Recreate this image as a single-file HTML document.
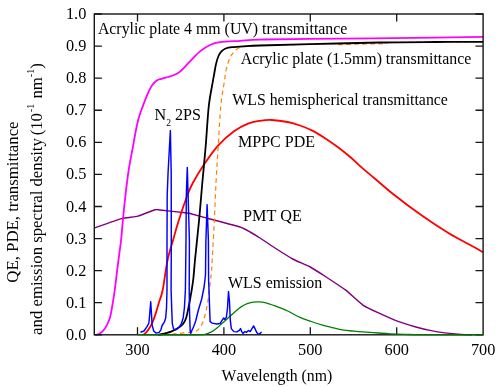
<!DOCTYPE html>
<html><head><meta charset="utf-8"><title>chart</title>
<style>html,body{margin:0;padding:0;background:#fff;}body{width:498px;height:387px;overflow:hidden;position:relative;font-family:"Liberation Serif",serif;}</style></head>
<body>
<svg width="498" height="387" viewBox="0 0 498 387" style="display:block;position:absolute;left:0;top:0;will-change:transform;font-kerning:none" font-family="Liberation Serif, serif" fill="#000">
<rect width="498" height="387" fill="#fff"/>
<path d="M94.50,227.90 C96.76,227.12 117.98,219.58 121.60,218.60 C125.22,217.62 135.12,216.83 137.90,216.10 C140.68,215.37 153.16,210.31 155.00,209.80 C156.84,209.29 157.50,209.75 160.00,210.00 C162.50,210.25 182.50,212.51 185.00,212.80 C187.50,213.09 187.92,212.98 190.00,213.50 C192.08,214.02 205.83,217.88 210.00,219.00 C214.17,220.12 236.67,225.92 240.00,227.00 C243.33,228.08 248.33,231.08 250.00,232.00 C251.67,232.92 257.92,236.67 260.00,238.00 C262.08,239.33 272.27,246.25 275.00,248.00 C277.73,249.75 289.76,257.42 292.70,259.00 C295.64,260.58 307.57,265.54 310.30,267.00 C313.03,268.46 322.47,274.59 325.40,276.50 C328.32,278.41 342.27,287.52 345.40,289.90 C348.52,292.28 360.18,303.20 362.90,305.10 C365.62,307.00 375.07,311.34 378.00,312.70 C380.93,314.06 394.92,320.23 398.00,321.40 C401.08,322.57 412.33,325.95 415.00,326.70 C417.67,327.45 427.50,329.88 430.00,330.40 C432.50,330.92 442.42,332.57 445.00,332.90 C447.58,333.23 458.75,334.24 461.00,334.40 C463.25,334.56 471.08,334.77 472.00,334.80" fill="none" stroke="#800080" stroke-width="1.45" stroke-linejoin="round"/>
<path d="M96.30,334.80 C96.75,334.67 98.02,334.52 99.00,334.00 C99.98,333.48 101.02,332.93 102.20,331.70 C103.38,330.47 104.80,328.97 106.10,326.60 C107.40,324.23 108.93,321.17 110.00,317.50 C111.07,313.83 111.68,309.35 112.50,304.60 C113.32,299.85 114.08,295.03 114.90,289.00 C115.72,282.97 116.65,274.42 117.40,268.40 C118.15,262.38 118.78,257.63 119.40,252.90 C120.02,248.17 120.45,246.15 121.10,240.00 C121.75,233.85 122.55,223.67 123.30,216.00 C124.05,208.33 124.65,202.00 125.60,194.00 C126.55,186.00 127.78,175.83 129.00,168.00 C130.22,160.17 131.85,152.75 132.90,147.00 C133.95,141.25 134.48,137.75 135.30,133.50 C136.12,129.25 137.02,124.75 137.80,121.50 C138.58,118.25 139.27,116.28 140.00,114.00 C140.73,111.72 141.03,110.92 142.20,107.80 C143.37,104.68 145.40,98.98 147.00,95.30 C148.60,91.62 150.18,88.15 151.80,85.70 C153.42,83.25 155.08,81.75 156.70,80.60 C158.32,79.45 159.63,79.40 161.50,78.80 C163.37,78.20 165.82,77.63 167.90,77.00 C169.98,76.37 171.98,75.90 174.00,75.00 C176.02,74.10 177.33,73.87 180.00,71.60 C182.67,69.33 186.67,64.77 190.00,61.40 C193.33,58.03 196.67,54.13 200.00,51.40 C203.33,48.67 206.67,46.53 210.00,45.00 C213.33,43.47 215.00,42.90 220.00,42.20 C225.00,41.50 233.33,41.23 240.00,40.80 C246.67,40.37 248.33,39.92 260.00,39.60 C271.67,39.28 280.83,39.22 310.00,38.90 C339.17,38.58 406.15,38.03 435.00,37.70 C463.85,37.37 475.08,37.03 483.10,36.90" fill="none" stroke="#ff00ff" stroke-width="1.8" stroke-linejoin="round"/>
<path d="M143.30,334.80 C143.75,334.43 145.17,333.43 146.00,332.60 C146.83,331.77 147.32,331.28 148.30,329.80 C149.28,328.32 150.70,326.32 151.90,323.70 C153.10,321.08 154.30,317.72 155.50,314.10 C156.70,310.48 157.90,306.02 159.10,302.00 C160.30,297.98 161.28,297.00 162.70,290.00 C164.12,283.00 165.82,268.50 167.60,260.00 C169.38,251.50 171.47,245.83 173.40,239.00 C175.33,232.17 176.85,226.33 179.20,219.00 C181.55,211.67 185.23,201.00 187.50,195.00 C189.77,189.00 190.05,188.07 192.80,183.00 C195.55,177.93 199.80,170.83 204.00,164.60 C208.20,158.37 213.00,151.17 218.00,145.60 C223.00,140.03 229.00,134.87 234.00,131.20 C239.00,127.53 243.67,125.33 248.00,123.60 C252.33,121.87 256.10,121.40 260.00,120.80 C263.90,120.20 266.78,119.80 271.40,120.00 C276.02,120.20 282.93,121.08 287.70,122.00 C292.47,122.92 295.82,124.02 300.00,125.50 C304.18,126.98 308.57,128.73 312.80,130.90 C317.03,133.07 321.20,135.77 325.40,138.50 C329.60,141.23 333.82,144.17 338.00,147.30 C342.18,150.43 346.33,153.75 350.50,157.30 C354.67,160.85 358.92,165.03 363.00,168.60 C367.08,172.17 370.00,174.47 375.00,178.70 C380.00,182.93 384.95,187.68 393.00,194.00 C401.05,200.32 414.07,210.10 423.30,216.60 C432.53,223.10 440.03,227.97 448.40,233.00 C456.77,238.03 467.72,243.58 473.50,246.80 C479.28,250.02 481.50,251.38 483.10,252.30" fill="none" stroke="#ff0000" stroke-width="1.8"/>
<path d="M172.00,334.30 C173.33,334.12 177.33,333.48 180.00,333.20 C182.67,332.92 185.33,332.93 188.00,332.60 C190.67,332.27 193.83,332.30 196.00,331.20 C198.17,330.10 199.58,328.37 201.00,326.00 C202.42,323.63 203.40,320.83 204.50,317.00 C205.60,313.17 206.67,308.60 207.60,303.00 C208.53,297.40 209.47,288.57 210.10,283.40 C210.73,278.23 211.05,275.90 211.40,272.00 C211.75,268.10 211.73,268.17 212.20,260.00 C212.67,251.83 213.57,235.83 214.20,223.00 C214.83,210.17 215.33,195.83 216.00,183.00 C216.67,170.17 217.40,158.83 218.20,146.00 C219.00,133.17 219.87,116.13 220.80,106.00 C221.73,95.87 222.88,91.33 223.80,85.20 C224.72,79.07 225.22,73.88 226.30,69.20 C227.38,64.52 228.77,60.25 230.30,57.10 C231.83,53.95 233.97,51.88 235.50,50.30 C237.03,48.72 238.08,48.27 239.50,47.60 C240.92,46.93 240.58,46.65 244.00,46.30 C247.42,45.95 249.00,45.85 260.00,45.50 C271.00,45.15 297.83,44.50 310.00,44.20 C322.17,43.90 328.50,43.63 333.00,43.70 C337.50,43.77 332.50,44.53 337.00,44.60 C341.50,44.67 352.00,44.27 360.00,44.10 C368.00,43.93 380.17,43.85 385.00,43.60 C389.83,43.35 380.67,42.87 389.00,42.60 C397.33,42.33 419.32,42.12 435.00,42.00 C450.68,41.88 475.08,41.92 483.10,41.90" fill="none" stroke="#ff8000" stroke-width="1.2" stroke-dasharray="4.5,3.5"/>
<path d="M158.00,334.70 C158.78,334.58 161.37,334.25 162.70,334.00 C164.03,333.75 164.60,333.60 166.00,333.20 C167.40,332.80 169.23,332.37 171.10,331.60 C172.97,330.83 175.25,329.82 177.20,328.60 C179.15,327.38 181.30,326.12 182.80,324.30 C184.30,322.48 185.23,320.58 186.20,317.70 C187.17,314.82 187.75,311.22 188.60,307.00 C189.45,302.78 190.52,297.07 191.30,292.40 C192.08,287.73 192.68,284.40 193.30,279.00 C193.92,273.60 194.08,269.33 195.00,260.00 C195.92,250.67 197.87,232.50 198.80,223.00 C199.73,213.50 200.02,209.67 200.60,203.00 C201.18,196.33 201.45,192.50 202.30,183.00 C203.15,173.50 204.62,158.83 205.70,146.00 C206.78,133.17 207.60,116.80 208.80,106.00 C210.00,95.20 212.03,86.37 212.90,81.20 C213.77,76.03 213.48,77.85 214.00,75.00 C214.52,72.15 215.25,67.27 216.00,64.10 C216.75,60.93 217.55,58.15 218.50,56.00 C219.45,53.85 220.50,52.45 221.70,51.20 C222.90,49.95 223.97,49.17 225.70,48.50 C227.43,47.83 229.05,47.57 232.10,47.20 C235.15,46.83 239.35,46.58 244.00,46.30 C248.65,46.02 249.00,45.85 260.00,45.50 C271.00,45.15 290.00,44.70 310.00,44.20 C330.00,43.70 359.17,42.87 380.00,42.50 C400.83,42.13 417.82,42.10 435.00,42.00 C452.18,41.90 475.08,41.92 483.10,41.90" fill="none" stroke="#000" stroke-width="1.8"/>
<rect x="94.3" y="14.0" width="388.8" height="320.8" fill="none" stroke="#161616" stroke-width="1.4"/>
<path d="M137.50,334.8 v-7.6 M137.50,14.0 v7.6 M223.90,334.8 v-7.6 M223.90,14.0 v7.6 M310.30,334.8 v-7.6 M310.30,14.0 v7.6 M396.70,334.8 v-7.6 M396.70,14.0 v7.6 M94.3,334.80 h7.6 M483.1,334.80 h-7.6 M94.3,302.72 h7.6 M483.1,302.72 h-7.6 M94.3,270.64 h7.6 M483.1,270.64 h-7.6 M94.3,238.56 h7.6 M483.1,238.56 h-7.6 M94.3,206.48 h7.6 M483.1,206.48 h-7.6 M94.3,174.40 h7.6 M483.1,174.40 h-7.6 M94.3,142.32 h7.6 M483.1,142.32 h-7.6 M94.3,110.24 h7.6 M483.1,110.24 h-7.6 M94.3,78.16 h7.6 M483.1,78.16 h-7.6 M94.3,46.08 h7.6 M483.1,46.08 h-7.6 M94.3,14.00 h7.6 M483.1,14.00 h-7.6" stroke="#161616" stroke-width="1.3" fill="none"/>
<path d="M137.70,334.80 C147.42,334.80 184.78,334.88 196.00,334.80 C207.22,334.72 202.50,334.73 205.00,334.30 C207.50,333.87 209.00,333.25 211.00,332.20 C213.00,331.15 214.98,329.62 217.00,328.00 C219.02,326.38 221.08,324.32 223.10,322.50 C225.12,320.68 227.10,318.90 229.10,317.10 C231.10,315.30 233.10,313.40 235.10,311.70 C237.10,310.00 239.08,308.25 241.10,306.90 C243.12,305.55 245.18,304.38 247.20,303.60 C249.22,302.82 251.40,302.48 253.20,302.20 C255.00,301.92 256.03,301.83 258.00,301.90 C259.97,301.97 262.17,301.93 265.00,302.60 C267.83,303.27 271.22,304.50 275.00,305.90 C278.78,307.30 283.53,309.08 287.70,311.00 C291.87,312.92 296.08,315.65 300.00,317.40 C303.92,319.15 307.45,320.20 311.20,321.50 C314.95,322.80 319.20,324.23 322.50,325.20 C325.80,326.17 327.75,326.53 331.00,327.30 C334.25,328.07 338.17,329.15 342.00,329.80 C345.83,330.45 350.00,330.80 354.00,331.20 C358.00,331.60 362.00,331.90 366.00,332.20 C370.00,332.50 374.00,332.73 378.00,333.00 C382.00,333.27 385.50,333.57 390.00,333.80 C394.50,334.03 399.17,334.23 405.00,334.40 C410.83,334.57 411.98,334.73 425.00,334.80 C438.02,334.87 473.42,334.80 483.10,334.80" fill="none" stroke="#008000" stroke-width="1.3"/>
<path d="M140.40,332.20 L144.00,331.00 L147.00,326.70 L148.90,323.00 L149.70,314.10 L150.70,301.80 L151.50,314.10 L152.10,324.90 L153.70,331.00 L156.10,333.10 L159.10,332.40 L160.90,329.80 L162.10,325.50 L164.50,321.90 L165.70,317.70 L166.50,308.10 L167.00,290.00 L167.00,241.00 L167.20,195.00 L168.10,172.00 L170.35,130.60 L171.20,172.00 L171.30,241.00 L171.10,290.00 L171.70,308.00 L172.30,323.70 L173.60,329.20 L176.00,329.80 L179.00,327.30 L181.40,323.70 L183.20,317.70 L184.40,308.00 L185.40,290.00 L186.00,241.00 L186.30,195.00 L187.30,167.50 L188.10,195.00 L189.40,241.00 L189.20,290.00 L189.60,314.00 L190.20,331.00 L190.70,333.40 L191.60,331.00 L193.50,327.00 L195.70,321.00 L198.10,311.00 L201.70,299.00 L204.10,287.00 L205.50,275.00 L205.90,241.00 L207.10,204.60 L208.40,241.00 L208.60,280.00 L209.00,290.00 L209.60,308.00 L210.10,321.60 L212.20,323.10 L217.00,324.00 L220.10,323.50 L221.90,320.70 L223.70,318.00 L224.90,319.50 L226.40,317.10 L227.50,308.10 L228.50,291.60 L229.50,302.00 L230.30,320.10 L231.30,328.60 L233.90,331.60 L236.90,331.90 L239.30,330.40 L240.50,328.60 L241.70,331.60 L243.00,333.40 L244.80,331.60 L246.60,332.20 L248.40,330.40 L250.20,331.60 L252.00,328.60 L253.60,325.90 L255.00,328.60 L256.60,332.20 L257.80,333.60 L259.20,334.00 L260.40,333.20 L261.60,332.00" fill="none" stroke="#0000ff" stroke-width="1.45" stroke-linejoin="round"/>
<text x="137.5" y="355.0" font-size="16.3" text-anchor="middle" >300</text>
<text x="223.9" y="355.0" font-size="16.3" text-anchor="middle" >400</text>
<text x="310.3" y="355.0" font-size="16.3" text-anchor="middle" >500</text>
<text x="396.7" y="355.0" font-size="16.3" text-anchor="middle" >600</text>
<text x="483.1" y="355.0" font-size="16.3" text-anchor="middle" >700</text>
<text x="86.3" y="339.8" font-size="16.3" text-anchor="end" >0.0</text>
<text x="86.3" y="307.7" font-size="16.3" text-anchor="end" >0.1</text>
<text x="86.3" y="275.6" font-size="16.3" text-anchor="end" >0.2</text>
<text x="86.3" y="243.6" font-size="16.3" text-anchor="end" >0.3</text>
<text x="86.3" y="211.5" font-size="16.3" text-anchor="end" >0.4</text>
<text x="86.3" y="179.4" font-size="16.3" text-anchor="end" >0.5</text>
<text x="86.3" y="147.3" font-size="16.3" text-anchor="end" >0.6</text>
<text x="86.3" y="115.2" font-size="16.3" text-anchor="end" >0.7</text>
<text x="86.3" y="83.2" font-size="16.3" text-anchor="end" >0.8</text>
<text x="86.3" y="51.1" font-size="16.3" text-anchor="end" >0.9</text>
<text x="86.3" y="19.0" font-size="16.3" text-anchor="end" >1.0</text>
<text x="97.9" y="34.2" font-size="15.85" text-anchor="start" >Acrylic plate 4 mm (UV) transmittance</text>
<text x="240.7" y="63.9" font-size="15.85" text-anchor="start" >Acrylic plate (1.5mm) transmittance</text>
<text x="232.3" y="104.9" font-size="15.85" text-anchor="start" >WLS hemispherical transmittance</text>
<text x="238.1" y="146.8" font-size="16.0" text-anchor="start" >MPPC PDE</text>
<text x="243.0" y="220.7" font-size="16.2" text-anchor="start" >PMT QE</text>
<text x="228.0" y="287.7" font-size="15.95" text-anchor="start" >WLS emission</text>
<text x="154.6" y="120.1" font-size="16.1">N<tspan font-size="9.6" dy="6">2</tspan><tspan dy="-6"> 2PS</tspan></text>
<text x="276.9" y="381.0" font-size="15.75" text-anchor="middle" >Wavelength (nm)</text>
<text transform="translate(18.2,282.7) rotate(-90)" font-size="16.8">QE, PDE, transmittance</text>
<text transform="translate(41.6,334.9) rotate(-90)" font-size="16.76">and emission spectral density<tspan dx="-1.4"> (10</tspan><tspan font-size="9.7" dy="-7.4" dx="1.0">-1</tspan><tspan dy="7.4" dx="1.2"> nm</tspan><tspan font-size="9.7" dy="-7.4" dx="0.2">-1</tspan><tspan dy="7.4" dx="0.2">)</tspan></text>
</svg>
</body></html>
